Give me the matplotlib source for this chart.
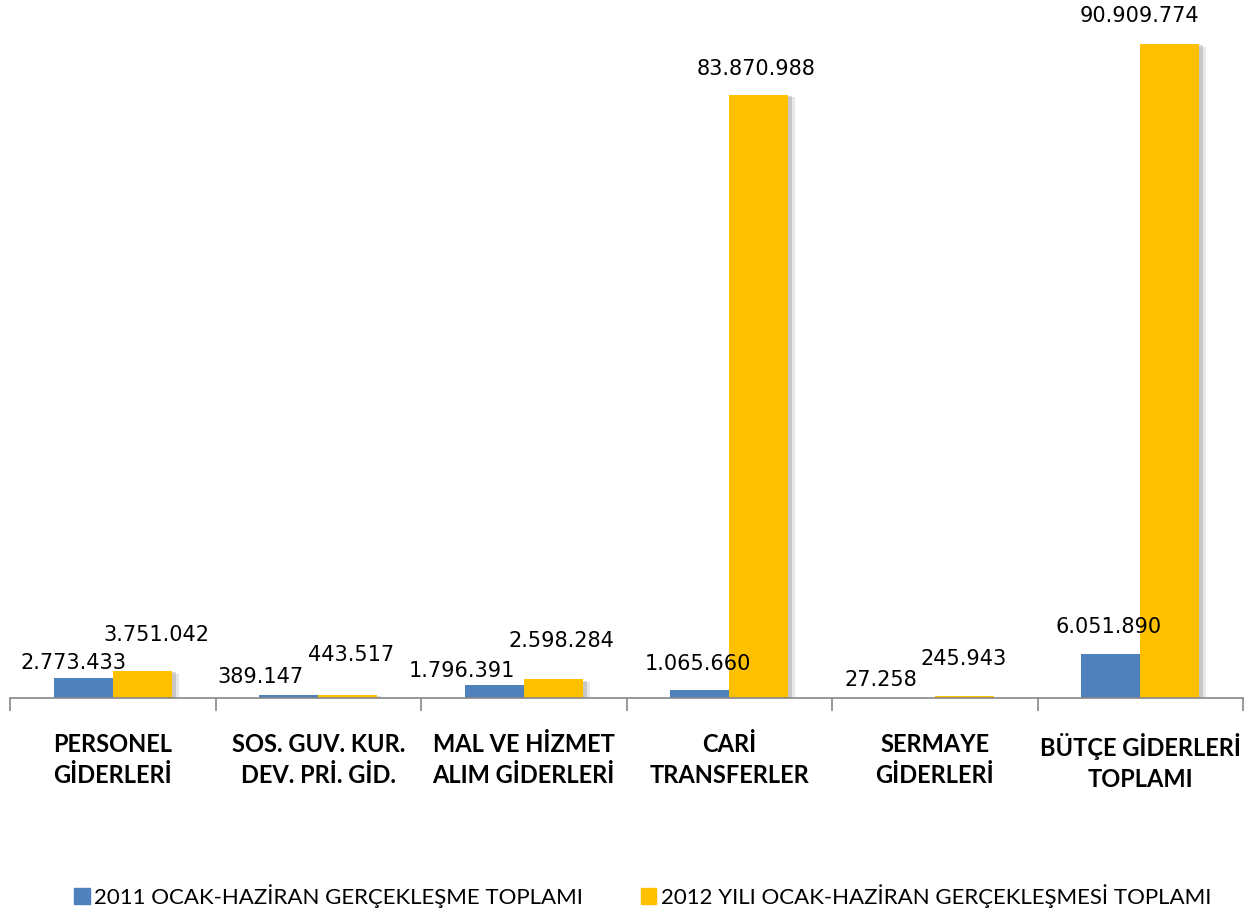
import matplotlib.pyplot as plt
import matplotlib.patheffects as pe
from matplotlib.patches import Patch
import numpy as np

categories = ["PERSONEL\nGİDERLERİ", "SOS. GUV. KUR.\nDEV. PRİ. GİD.", "MAL VE HİZMET\nALIM GİDERLERİ",
              "CARİ\nTRANSFERLER", "SERMAYE\nGİDERLERİ", "BÜTÇE GİDERLERİ\nTOPLAMI"]
values_2011 = [2773433, 389147, 1796391, 1065660, 27258, 6051890]
values_2012 = [3751042, 443517, 2598284, 83870988, 245943, 90909774]
labels_2011 = ["2.773.433", "389.147", "1.796.391", "1.065.660", "27.258", "6.051.890"]
labels_2012 = ["3.751.042", "443.517", "2.598.284", "83.870.988", "245.943", "90.909.774"]
legend_names = ["2011 OCAK-HAZİRAN GERÇEKLEŞME TOPLAMI", "2012 YILI OCAK-HAZİRAN GERÇEKLEŞMESİ TOPLAMI"]

# label offsets in pixels (hand placed in the original)
off_2011 = [(-10, 15), (-28, 18), (-32, 14), (-2, 26), (-24, 18), (-2, 27)]
off_2012 = [(14, 36), (3, 40), (8, 38), (-3, 26), (-1, 37), (-30, 28)]

blue = "#4f81bd"
gold = "#ffc000"

fig = plt.figure(figsize=(12.53, 9.16), dpi=100)
ax = fig.add_axes([10 / 1253, (916 - 698) / 916, 1233 / 1253, 698 / 916])

x = np.arange(len(categories))
w = 0.287
shadow = [pe.SimplePatchShadow(offset=(5, -2), shadow_rgbFace="#a0a0a0", alpha=0.25),
          pe.SimplePatchShadow(offset=(3, -1), shadow_rgbFace="#808080", alpha=0.3),
          pe.Normal()]
b1 = ax.bar(x - w / 2, values_2011, w, color=blue, zorder=2)
b2 = ax.bar(x + w / 2, values_2012, w, color=gold, zorder=2)
for b in list(b1) + list(b2):
    b.set_path_effects(shadow)

for xi, v, lab, off in zip(x - w / 2, values_2011, labels_2011, off_2011):
    ax.annotate(lab, (xi, v), xytext=off, textcoords="offset pixels",
                ha="center", va="center", fontsize=15, color="#000000")
for xi, v, lab, off in zip(x + w / 2, values_2012, labels_2012, off_2012):
    ax.annotate(lab, (xi, v), xytext=off, textcoords="offset pixels",
                ha="center", va="center", fontsize=15, color="#000000")

ax.set_xlim(-0.5, len(categories) - 0.5)
ax.set_ylim(0, 90909774 * 698 / 654)

for s in ["top", "right", "left"]:
    ax.spines[s].set_visible(False)
ax.spines["bottom"].set_color("#868686")
ax.spines["bottom"].set_linewidth(1.2)
ax.set_yticks([])

ax.set_xticks(x)
ax.set_xticklabels(categories, fontfamily="Lato", fontweight="bold", fontsize=17,
                   linespacing=1.45)
ax.tick_params(axis="x", which="major", length=0, pad=25)
ax.set_xticks(np.arange(-0.5, len(categories)), minor=True)
ax.tick_params(axis="x", which="minor", length=9, width=1.2, color="#868686", direction="out")

handles = [Patch(color=blue), Patch(color=gold)]
fig.legend(handles, legend_names, loc="lower center", bbox_to_anchor=(0.513, -0.013), ncol=2,
           frameon=False, prop={"family": "Lato", "size": 16},
           handlelength=0.7, handleheight=0.7, handletextpad=0.2, columnspacing=2.6)

fig.savefig("out.png", dpi=100)
